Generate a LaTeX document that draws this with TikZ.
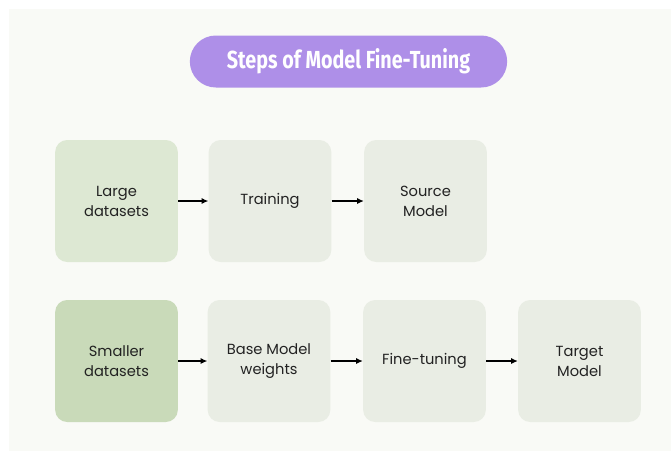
\documentclass[tikz,border=0pt]{standalone}
\usepackage{fontspec}
\usepackage{xcolor}
\usetikzlibrary{arrows.meta}
\setmainfont{Poppins}
\newfontfamily\headfont[FakeStretch=0.8]{Fira Sans}

\definecolor{panelbg}{RGB}{249,250,246}
\definecolor{pillviolet}{RGB}{174,143,232}
\definecolor{greenlight}{RGB}{221,232,211}
\definecolor{greendeep}{RGB}{201,218,185}
\definecolor{greybox}{RGB}{233,237,228}
\definecolor{inkdark}{RGB}{34,34,34}

\begin{document}
\begin{tikzpicture}[x=0.75pt,y=0.75pt,yscale=-1,xscale=1,
  box/.style={draw=none,fill=greybox,rounded corners=9pt,minimum width=92pt,minimum height=91.5pt,
    align=center,text=inkdark,font=\fontsize{11}{15}\selectfont,inner sep=0pt},
  flow/.style={-{Latex[length=5pt,width=4.5pt]},line width=1.1pt,color=black}]
\useasboundingbox (0,0) rectangle (671,451);

% Backdrop
\fill [panelbg] (9,9) rectangle (671,451);

% Title pill
\node [fill=pillviolet,rounded corners=19.5pt,minimum width=238pt,minimum height=39pt,text=white,
  font=\headfont\bfseries\fontsize{18.5}{20}\selectfont] (title) at (348.5,61.5) {Steps of Model Fine-Tuning};

% Upper row
\node [box,fill=greenlight] (large) at (116.5,201) {Large\\datasets};
\node [box] (train) at (270,201) {Training};
\node [box] (source) at (425.5,201) {Source\\Model};

% Lower row
\node [box,fill=greendeep] (small) at (116.5,361) {Smaller\\datasets};
\node [box] (base) at (269,361) {Base Model\\weights};
\node [box] (tune) at (424.5,361) {Fine-tuning};
\node [box] (target) at (579.5,361) {Target\\Model};

% Arrows
\draw [flow] (large) -- (train);
\draw [flow] (train) -- (source);
\draw [flow] (small) -- (base);
\draw [flow] (base) -- (tune);
\draw [flow] (tune) -- (target);

\end{tikzpicture}
\end{document}
